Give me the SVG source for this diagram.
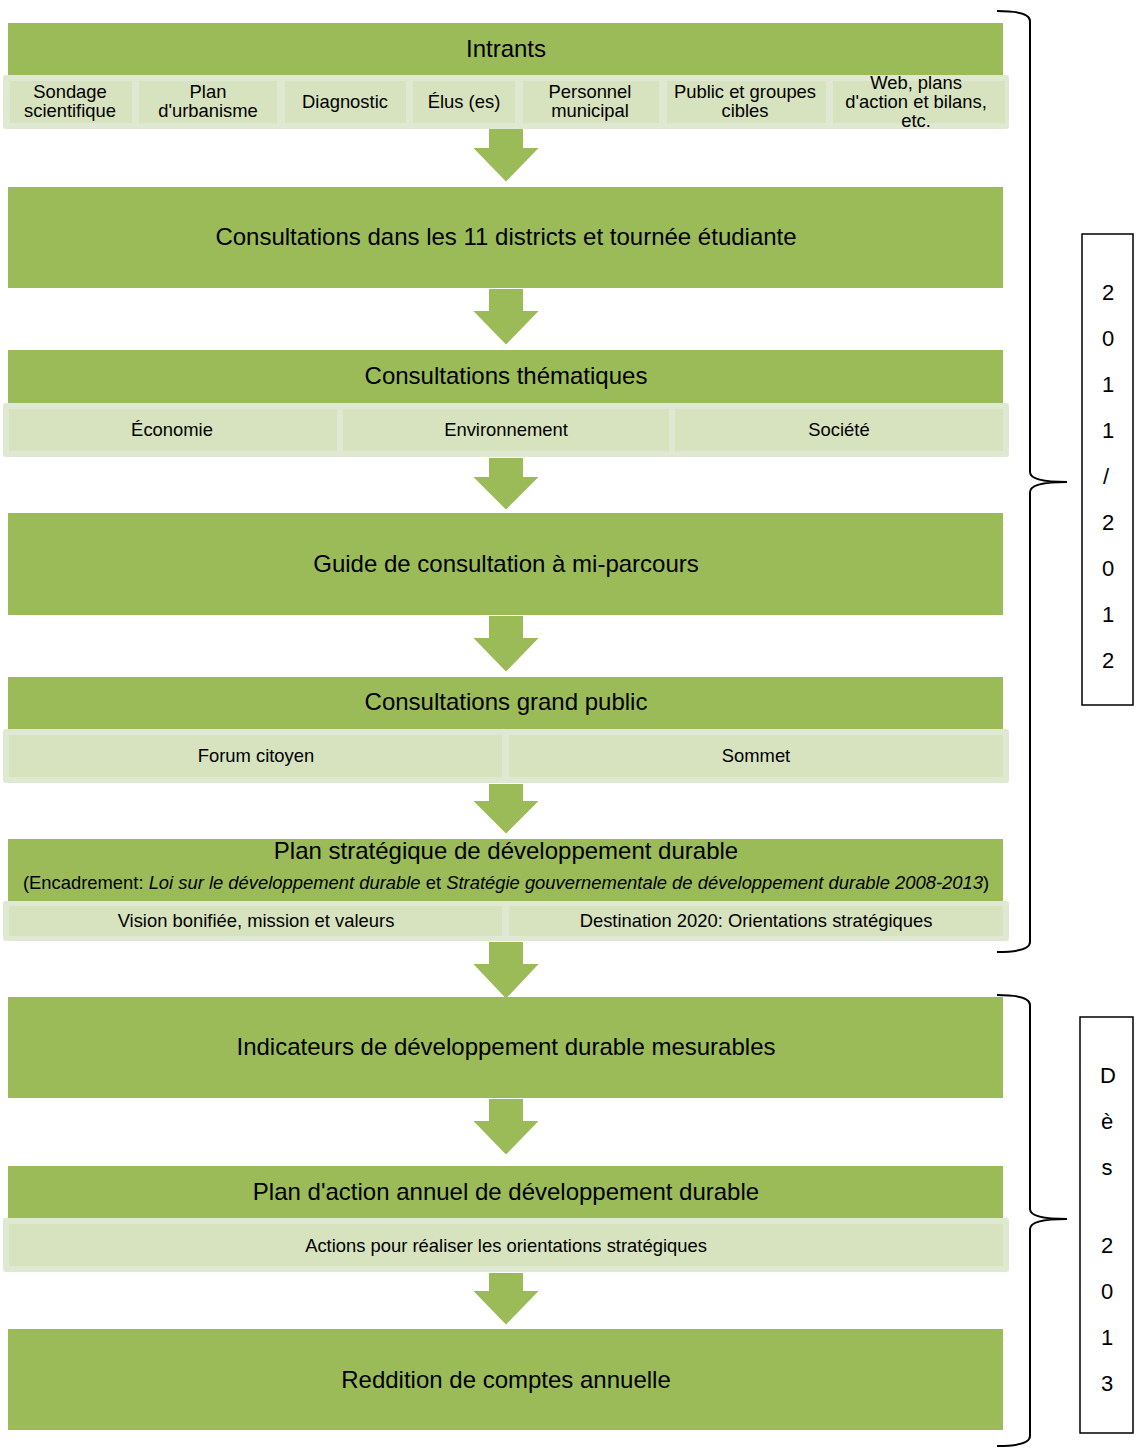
<svg xmlns="http://www.w3.org/2000/svg" width="1138" height="1452" viewBox="0 0 1138 1452">
<style>
text{font-family:"Liberation Sans",Arial,sans-serif;fill:#000;text-anchor:middle}
.bar{fill:#9BBB59}
.band{fill:#DFE8D1}
.cell{fill:#D7E3BE;stroke:#E0E8D3;stroke-width:2}
.t{font-size:24px}
.s{font-size:18.4px}
.arr{fill:#9BBB59;stroke:#fff;stroke-width:2}
.br{fill:none;stroke:#000;stroke-width:2}
.box{fill:#fff;stroke:#000;stroke-width:1.5}
.v{font-size:22px}
</style>
<rect width="1138" height="1452" fill="#fff"/>
<g id="connectors">
<polygon class="arr" points="488,128 524,128 524,147 541,147 506,183 471,147 488,147"/>
<polygon class="arr" points="488,288 524,288 524,310 541,310 506,346 471,310 488,310"/>
<polygon class="arr" points="488,457 524,457 524,476 541,476 506,511 471,476 488,476"/>
<polygon class="arr" points="488,615 524,615 524,637 541,637 506,673 471,637 488,637"/>
<polygon class="arr" points="488,783 524,783 524,800 541,800 506,835 471,800 488,800"/>
<polygon class="arr" points="488,941 524,941 524,963 541,963 506,1000 471,963 488,963"/>
<polygon class="arr" points="488,1098 524,1098 524,1120 541,1120 506,1156 471,1120 488,1120"/>
<polygon class="arr" points="488,1272 524,1272 524,1290 541,1290 506,1326 471,1290 488,1290"/>
</g>
<g id="intrants">
<rect class="bar" x="8" y="23" width="995" height="56"/>
<text class="t" x="506" y="57">Intrants</text>
<rect class="band" x="3" y="75" width="1006" height="54" rx="3"/>
<rect class="cell" x="9" y="80" width="124" height="44"/>
<rect class="cell" x="138" y="80" width="140" height="44"/>
<rect class="cell" x="284" y="80" width="123" height="44"/>
<rect class="cell" x="412" y="80" width="104" height="44"/>
<rect class="cell" x="522" y="80" width="138" height="44"/>
<rect class="cell" x="666" y="80" width="161" height="44"/>
<rect class="cell" x="832" y="80" width="174" height="44"/>
<text class="s" x="70" y="98">Sondage</text>
<text class="s" x="70" y="117">scientifique</text>
<text class="s" x="208" y="98">Plan</text>
<text class="s" x="208" y="117">d'urbanisme</text>
<text class="s" x="345" y="108">Diagnostic</text>
<text class="s" x="464" y="108">Élus (es)</text>
<text class="s" x="590" y="98">Personnel</text>
<text class="s" x="590" y="117">municipal</text>
<text class="s" x="745" y="98">Public et groupes</text>
<text class="s" x="745" y="117">cibles</text>
<text class="s" x="916" y="89">Web, plans</text>
<text class="s" x="916" y="108">d'action et bilans,</text>
<text class="s" x="916" y="127">etc.</text>
</g>
<g id="districts">
<rect class="bar" x="8" y="187" width="995" height="101"/>
<text class="t" x="506" y="245">Consultations dans les 11 districts et tournée étudiante</text>
</g>
<g id="thematiques">
<rect class="bar" x="8" y="350" width="995" height="56"/>
<text class="t" x="506" y="384">Consultations thématiques</text>
<rect class="band" x="3" y="403" width="1006" height="54" rx="3"/>
<rect class="cell" x="8" y="408" width="330" height="44"/>
<rect class="cell" x="342" y="408" width="328" height="44"/>
<rect class="cell" x="674" y="408" width="330" height="44"/>
<text class="s" x="172" y="436">Économie</text>
<text class="s" x="506" y="436">Environnement</text>
<text class="s" x="839" y="436">Société</text>
</g>
<g id="guide">
<rect class="bar" x="8" y="513" width="995" height="102"/>
<text class="t" x="506" y="572">Guide de consultation à mi-parcours</text>
</g>
<g id="grandpublic">
<rect class="bar" x="8" y="677" width="995" height="56"/>
<text class="t" x="506" y="710">Consultations grand public</text>
<rect class="band" x="3" y="729" width="1006" height="54" rx="3"/>
<rect class="cell" x="8" y="734" width="495" height="44"/>
<rect class="cell" x="508" y="734" width="496" height="44"/>
<text class="s" x="256" y="762">Forum citoyen</text>
<text class="s" x="756" y="762">Sommet</text>
</g>
<g id="planstrat">
<rect class="bar" x="8" y="839" width="995" height="66"/>
<text class="t" x="506" y="859">Plan stratégique de développement durable</text>
<text class="s" x="506" y="889">(Encadrement: <tspan font-style="italic">Loi sur le développement durable</tspan> et <tspan font-style="italic">Stratégie gouvernementale de développement durable 2008-2013</tspan>)</text>
<rect class="band" x="3" y="901" width="1006" height="40" rx="3"/>
<rect class="cell" x="8" y="905" width="495" height="32"/>
<rect class="cell" x="508" y="905" width="496" height="32"/>
<text class="s" x="256" y="927">Vision bonifiée, mission et valeurs</text>
<text class="s" x="756" y="927">Destination 2020: Orientations stratégiques</text>
</g>
<g id="indicateurs">
<rect class="bar" x="8" y="997" width="995" height="101"/>
<text class="t" x="506" y="1055">Indicateurs de développement durable mesurables</text>
</g>
<g id="planaction">
<rect class="bar" x="8" y="1166" width="995" height="56"/>
<text class="t" x="506" y="1200">Plan d'action annuel de développement durable</text>
<rect class="band" x="3" y="1218" width="1006" height="54" rx="3"/>
<rect class="cell" x="8" y="1223" width="996" height="44"/>
<text class="s" x="506" y="1252">Actions pour réaliser les orientations stratégiques</text>
</g>
<g id="reddition">
<rect class="bar" x="8" y="1329" width="995" height="101"/>
<text class="t" x="506" y="1388">Reddition de comptes annuelle</text>
</g>
<g id="bracket1">
<path class="br" d="M997,11 Q1030,11 1030,21 L1030,472 Q1030,482 1067,482 Q1030,482 1030,492 L1030,942 Q1030,952 997,952"/>
<rect class="box" x="1082" y="234" width="51" height="471"/>
<text class="v" x="1108" y="300">2</text>
<text class="v" x="1108" y="346">0</text>
<text class="v" x="1108" y="392">1</text>
<text class="v" x="1108" y="438">1</text>
<text class="v" x="1106" y="484">/</text>
<text class="v" x="1108" y="530">2</text>
<text class="v" x="1108" y="576">0</text>
<text class="v" x="1108" y="622">1</text>
<text class="v" x="1108" y="668">2</text>
</g>
<g id="bracket2">
<path class="br" d="M997,995 Q1030,995 1030,1005 L1030,1209 Q1030,1219 1067,1219 Q1030,1219 1030,1229 L1030,1436 Q1030,1446 997,1446"/>
<rect class="box" x="1080" y="1017" width="53" height="416"/>
<text class="v" x="1108" y="1083">D</text>
<text class="v" x="1107" y="1129">è</text>
<text class="v" x="1107" y="1175">s</text>
<text class="v" x="1107" y="1253">2</text>
<text class="v" x="1107" y="1299">0</text>
<text class="v" x="1107" y="1345">1</text>
<text class="v" x="1107" y="1391">3</text>
</g>
</svg>
